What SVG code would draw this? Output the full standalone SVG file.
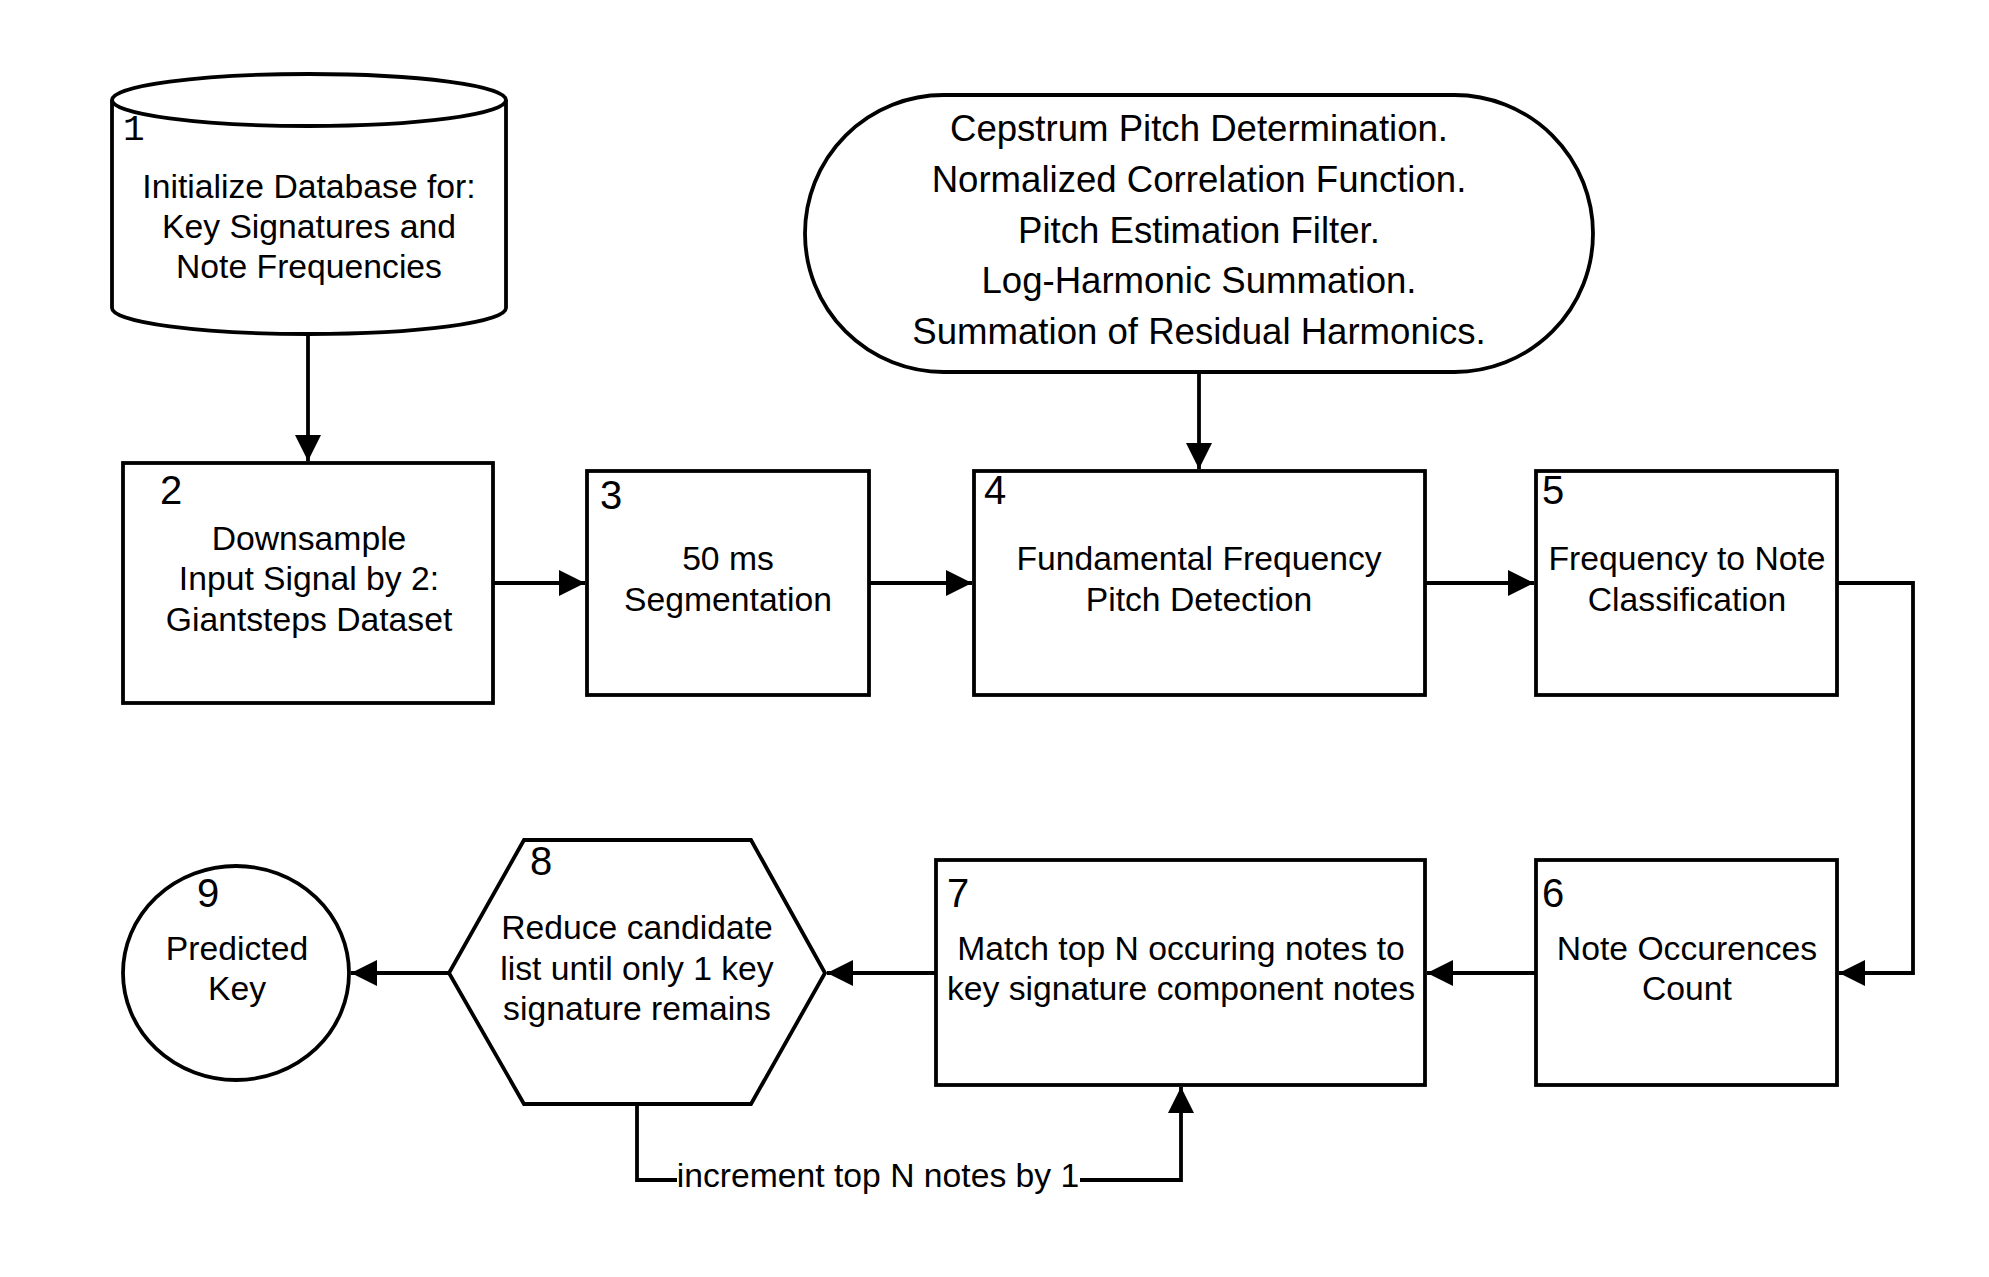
<svg xmlns="http://www.w3.org/2000/svg" width="1989" height="1277" viewBox="0 0 1989 1277">
<style>
.s{fill:#fff;stroke:#000;stroke-width:3.8}
.t{font-family:"Liberation Sans",Arial,sans-serif;font-size:33.7px;text-anchor:middle;fill:#000}
.b{font-family:"Liberation Sans",Arial,sans-serif;font-size:36.6px;text-anchor:middle;fill:#000}
.n{font-family:"Liberation Sans",Arial,sans-serif;font-size:40px;fill:#000}
.c{fill:none;stroke:#000;stroke-width:3.8}
</style>
<defs>
<marker id="ah" markerUnits="userSpaceOnUse" markerWidth="28" markerHeight="26" refX="26" refY="13" orient="auto">
<path d="M0,0 L26,13 L0,26 Z" fill="#000"/>
</marker>
</defs>
<rect width="1989" height="1277" fill="#fff"/>
<g id="connectors">
<path class="c" d="M308,335 V461" marker-end="url(#ah)"/>
<path class="c" d="M493,583 H585" marker-end="url(#ah)"/>
<path class="c" d="M869,583 H972" marker-end="url(#ah)"/>
<path class="c" d="M1199,372 V469" marker-end="url(#ah)"/>
<path class="c" d="M1425,583 H1534" marker-end="url(#ah)"/>
<path class="c" d="M1837,583 H1913 V973 H1839" marker-end="url(#ah)"/>
<path class="c" d="M1536,973 H1427" marker-end="url(#ah)"/>
<path class="c" d="M936,973 H827" marker-end="url(#ah)"/>
<path class="c" d="M449,973 H351" marker-end="url(#ah)"/>
<path class="c" d="M637,1104 V1180 H1181 V1087" marker-end="url(#ah)"/>
<rect x="677" y="1160" width="403" height="38" fill="#fff"/>
<text class="t" x="878" y="1187">increment top N notes by 1</text>
</g>
<g id="node1">
<path class="s" d="M112,100 V308 A197,26 0 0 0 506,308 V100 A197,26 0 0 0 112,100 Z"/>
<path class="s" d="M112,100 A197,26 0 0 0 506,100"/>
<text x="123" y="140" style="font-family:'Liberation Mono',monospace;font-size:36px">1</text>
<text class="t" x="309" y="198">Initialize Database for:</text>
<text class="t" x="309" y="238">Key Signatures and</text>
<text class="t" x="309" y="278">Note Frequencies</text>
</g>
<g id="node2">
<rect class="s" x="123" y="463" width="370" height="240"/>
<text class="n" x="160" y="504">2</text>
<text class="t" x="309" y="550">Downsample</text>
<text class="t" x="309" y="590">Input Signal by 2:</text>
<text class="t" x="309" y="631">Giantsteps Dataset</text>
</g>
<g id="node3">
<rect class="s" x="587" y="471" width="282" height="224"/>
<text class="n" x="600" y="509">3</text>
<text class="t" x="728" y="570">50 ms</text>
<text class="t" x="728" y="611">Segmentation</text>
</g>
<g id="nodeP">
<rect class="s" x="805" y="95" width="788" height="277" rx="138.5" ry="138.5"/>
<text class="b" x="1199" y="141">Cepstrum Pitch Determination.</text>
<text class="b" x="1199" y="192">Normalized Correlation Function.</text>
<text class="b" x="1199" y="243">Pitch Estimation Filter.</text>
<text class="b" x="1199" y="293">Log-Harmonic Summation.</text>
<text class="b" x="1199" y="344">Summation of Residual Harmonics.</text>
</g>
<g id="node4">
<rect class="s" x="974" y="471" width="451" height="224"/>
<text class="n" x="984" y="504">4</text>
<text class="t" x="1199" y="570">Fundamental Frequency</text>
<text class="t" x="1199" y="611">Pitch Detection</text>
</g>
<g id="node5">
<rect class="s" x="1536" y="471" width="301" height="224"/>
<text class="n" x="1542" y="504">5</text>
<text class="t" x="1687" y="570">Frequency to Note</text>
<text class="t" x="1687" y="611">Classification</text>
</g>
<g id="node6">
<rect class="s" x="1536" y="860" width="301" height="225"/>
<text class="n" x="1542" y="907">6</text>
<text class="t" x="1687" y="960">Note Occurences</text>
<text class="t" x="1687" y="1000">Count</text>
</g>
<g id="node7">
<rect class="s" x="936" y="860" width="489" height="225"/>
<text class="n" x="947" y="907">7</text>
<text class="t" x="1181" y="960">Match top N occuring notes to</text>
<text class="t" x="1181" y="1000">key signature component notes</text>
</g>
<g id="node8">
<polygon class="s" points="524,840 751,840 825,973 751,1104 524,1104 449,973"/>
<text class="n" x="530" y="875">8</text>
<text class="t" x="637" y="939">Reduce candidate</text>
<text class="t" x="637" y="980">list until only 1 key</text>
<text class="t" x="637" y="1020">signature remains</text>
</g>
<g id="node9">
<ellipse class="s" cx="236" cy="973" rx="113" ry="107"/>
<text class="n" x="197" y="907">9</text>
<text class="t" x="237" y="960">Predicted</text>
<text class="t" x="237" y="1000">Key</text>
</g>
</svg>
